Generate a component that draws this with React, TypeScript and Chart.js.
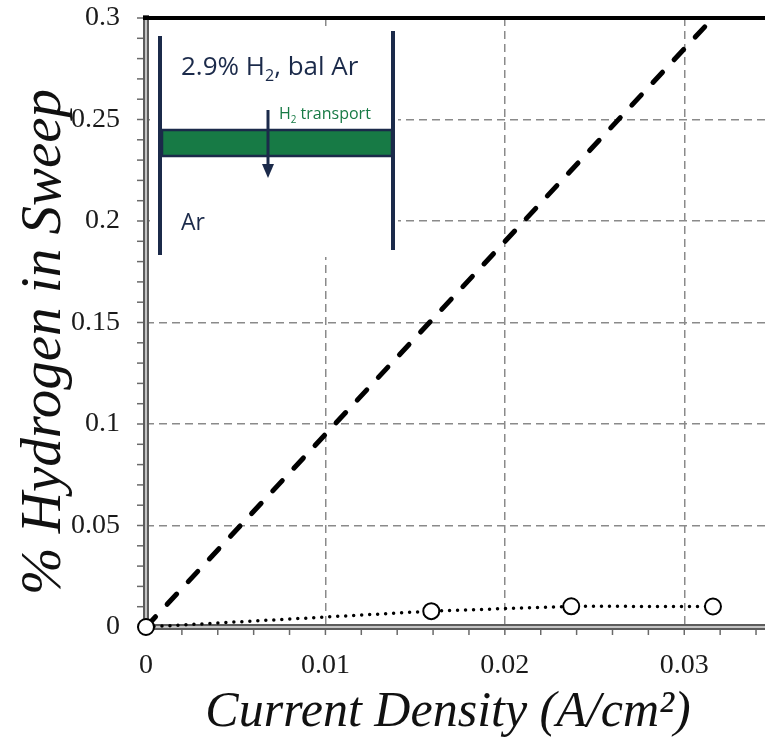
import React, { useEffect, useRef } from 'react';
import { Chart, registerables } from 'chart.js';

Chart.register(...registerables);

// ---- data ----
const currentDensity = [0, 0.0159, 0.0237, 0.0316];
const hydrogenMeasured = [0, 0.0078, 0.0102, 0.0101];
const theoryCurrent = [0, 0.0316];
const theoryHydrogen = [0, 0.3];
const xTicks = [0, 0.01, 0.02, 0.03];
const xTickLabels = ['0', '0.01', '0.02', '0.03'];
const yTicks = [0, 0.05, 0.1, 0.15, 0.2, 0.25, 0.3];
const yTickLabels = ['0', '0.05', '0.1', '0.15', '0.2', '0.25', '0.3'];
const xTitle = 'Current Density (A/cm²)';
const yTitle = '% Hydrogen in Sweep';
const insetFeed = ['2.9% H', '2', ', bal Ar'];
const insetSweep = 'Ar';
const insetTransport = ['H', '2', ' transport'];

const NAVY = '#1b2a4a';
const GREEN = '#177a45';
const SERIF = '"Liberation Serif", "Times New Roman", serif';

function seg(ctx: CanvasRenderingContext2D, x1: number, y1: number, x2: number, y2: number) {
  ctx.beginPath();
  ctx.moveTo(x1, y1);
  ctx.lineTo(x2, y2);
  ctx.stroke();
}

function subText(ctx: CanvasRenderingContext2D, parts: string[], x: number, y: number, size: number, family: string) {
  ctx.font = `${size}px ${family}`;
  ctx.fillText(parts[0], x, y);
  let cx = x + ctx.measureText(parts[0]).width;
  ctx.font = `${size * 0.62}px ${family}`;
  ctx.fillText(parts[1], cx, y + size * 0.22);
  cx += ctx.measureText(parts[1]).width;
  ctx.font = `${size}px ${family}`;
  ctx.fillText(parts[2], cx, y);
}

const decor = {
  id: 'decor',
  beforeDatasetsDraw(chart: any) {
    const { ctx, chartArea: a, scales } = chart;
    const x = scales.x;
    const y = scales.y;
    ctx.save();
    // minor ticks
    ctx.strokeStyle = '#6a6a6a';
    ctx.lineWidth = 1.5;
    for (let k = 0; k <= 30; k++) {
      const py = y.getPixelForValue(k * 0.01);
      seg(ctx, a.left - 9, py, a.left, py);
    }
    for (let k = 0; k * 0.002 <= x.max + 1e-9; k++) {
      const px = x.getPixelForValue(k * 0.002);
      seg(ctx, px, a.bottom, px, a.bottom + 8);
    }
    // axes (gray double line look)
    ctx.lineCap = 'butt';
    ctx.strokeStyle = '#5c5c5c';
    ctx.lineWidth = 6;
    seg(ctx, a.left, a.top - 3, a.left, a.bottom + 3);
    seg(ctx, a.left - 3, a.bottom, a.right, a.bottom);
    ctx.strokeStyle = '#c4c4c4';
    ctx.lineWidth = 2;
    seg(ctx, a.left, a.top - 2, a.left, a.bottom + 2);
    seg(ctx, a.left - 2, a.bottom, a.right, a.bottom);
    // top border
    ctx.strokeStyle = '#000';
    ctx.lineWidth = 4;
    seg(ctx, a.left - 3, a.top, a.right, a.top);
    ctx.restore();
  },
  afterDatasetsDraw(chart: any) {
    const { ctx, chartArea: a } = chart;
    const L = a.left;
    const T = a.top;
    ctx.save();
    // white panel
    ctx.fillStyle = '#fff';
    ctx.fillRect(L + 4, T + 9, 248, 230);
    // membrane
    ctx.fillStyle = GREEN;
    ctx.fillRect(L + 16, T + 112, 230, 26);
    ctx.strokeStyle = NAVY;
    ctx.lineWidth = 2.5;
    ctx.strokeRect(L + 16, T + 112, 230, 26);
    // walls
    ctx.lineWidth = 4;
    seg(ctx, L + 14, T + 18, L + 14, T + 237);
    seg(ctx, L + 247, T + 13, L + 247, T + 232);
    // arrow
    ctx.lineWidth = 3;
    seg(ctx, L + 122, T + 92, L + 122, T + 148);
    ctx.fillStyle = NAVY;
    ctx.beginPath();
    ctx.moveTo(L + 116, T + 146);
    ctx.lineTo(L + 128, T + 146);
    ctx.lineTo(L + 122, T + 160);
    ctx.closePath();
    ctx.fill();
    // text
    const fam = '"Open Sans", sans-serif';
    ctx.textBaseline = 'alphabetic';
    ctx.textAlign = 'left';
    ctx.fillStyle = NAVY;
    subText(ctx, insetFeed, L + 35, T + 57, 26, fam);
    ctx.font = `23px ${fam}`;
    ctx.fillText(insetSweep, L + 35, T + 212);
    ctx.fillStyle = GREEN;
    subText(ctx, insetTransport, L + 133, T + 101, 16, fam);
    ctx.restore();
  },
  afterDraw(chart: any) {
    const { ctx, chartArea: a } = chart;
    ctx.save();
    ctx.fillStyle = '#111';
    ctx.textAlign = 'center';
    ctx.textBaseline = 'middle';
    // x title
    ctx.font = `italic 50px ${SERIF}`;
    ctx.fillText(xTitle, a.left + 302, a.bottom + 86);
    // y title
    ctx.translate(45, a.top + 324);
    ctx.rotate(-Math.PI / 2);
    ctx.font = `italic 57px ${SERIF}`;
    ctx.fillText(yTitle, 0, 0);
    ctx.restore();
  },
};

export default function App() {
  const ref = useRef<HTMLCanvasElement | null>(null);
  useEffect(() => {
    if (!ref.current) return;
    const chart = new Chart(ref.current, {
      type: 'line',
      data: {
        datasets: [
          {
            label: 'Measured',
            data: currentDensity.map((v, i) => ({ x: v, y: hydrogenMeasured[i] })),
            borderColor: '#000',
            borderWidth: 3.5,
            borderDash: [0, 8],
            borderCapStyle: 'round',
            pointRadius: 8,
            pointBorderWidth: 2,
            pointBackgroundColor: '#fff',
            pointBorderColor: '#000',
            fill: false,
            clip: false,
          },
          {
            label: 'Theoretical',
            data: theoryCurrent.map((v, i) => ({ x: v, y: theoryHydrogen[i] })),
            borderColor: '#000',
            borderWidth: 5,
            borderDash: [14, 17],
            borderCapStyle: 'round',
            pointRadius: 0,
            fill: false,
            clip: false,
          },
        ],
      } as any,
      options: {
        animation: false,
        responsive: false,
        devicePixelRatio: 1,
        layout: { autoPadding: false, padding: { top: 18, right: 0, left: 0, bottom: 0 } },
        plugins: { legend: { display: false }, tooltip: { enabled: false } },
        scales: {
          x: {
            type: 'linear',
            min: 0,
            max: 0.0345,
            afterFit: (s: any) => {
              s.height = 110;
              s.paddingLeft = 0;
              s.paddingRight = 0;
            },
            afterBuildTicks: (s: any) => {
              s.ticks = xTicks.map((v) => ({ value: v }));
            },
            ticks: {
              callback: (_v: any, i: number) => xTickLabels[i],
              font: { family: SERIF, size: 28 },
              color: '#1a1a1a',
              padding: 22,
              maxRotation: 0,
              autoSkip: false,
            },
            grid: {
              drawTicks: false,
              color: (c: any) => (c.index === 0 ? 'rgba(0,0,0,0)' : '#8a8a8a'),
              lineWidth: 1.5,
            },
            border: { display: false, dash: [8, 5] },
            title: { display: false },
          },
          y: {
            type: 'linear',
            min: 0,
            max: 0.3,
            afterFit: (s: any) => {
              s.width = 146;
              s.paddingTop = 0;
              s.paddingBottom = 0;
            },
            afterBuildTicks: (s: any) => {
              s.ticks = yTicks.map((v) => ({ value: v }));
            },
            ticks: {
              callback: (_v: any, i: number) => yTickLabels[i],
              font: { family: SERIF, size: 28 },
              color: '#1a1a1a',
              padding: 26,
              autoSkip: false,
            },
            grid: {
              drawTicks: false,
              color: (c: any) => (c.index === 0 || c.index === yTicks.length - 1 ? 'rgba(0,0,0,0)' : '#8a8a8a'),
              lineWidth: 1.5,
            },
            border: { display: false, dash: [8, 5] },
            title: { display: false },
          },
        },
      } as any,
      plugins: [decor],
    });
    return () => chart.destroy();
  }, []);
  return (
    <div style={{ position: 'absolute', left: 0, top: 0, width: 765, height: 737, background: '#fff' }}>
      <canvas ref={ref} width={765} height={737} style={{ display: 'block' }} />
    </div>
  );
}
